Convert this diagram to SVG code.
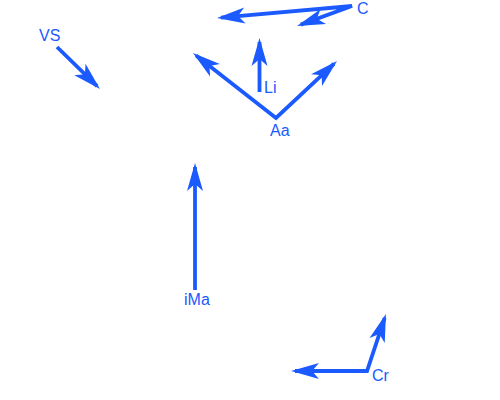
<svg xmlns="http://www.w3.org/2000/svg" width="500" height="400" viewBox="0 0 500 400">
<style>
.c{fill:none;stroke:#1a5aff;stroke-width:3.8;marker-end:url(#ah)}
.d{fill:none;stroke:#1a5aff;stroke-width:3.8;marker-start:url(#ah);marker-end:url(#ah)}
text{font-family:"Liberation Sans",Arial,sans-serif;font-size:16px;fill:#1a5aff}
</style>
<defs>
<marker id="ah" markerUnits="userSpaceOnUse" markerWidth="40" markerHeight="20" viewBox="-30 -10 40 20" refX="0" refY="0" orient="auto-start-reverse" overflow="visible">
<path d="M4,0 L-24,-8 L-17,0 L-24,8 z" fill="#1a5aff"/>
</marker>
</defs>
<rect width="500" height="400" fill="#fff"/>
<g id="connectors">
<path class="d" d="M221,17.6 L352,6 L300.8,24.6"/>
<path class="c" d="M259.5,92 L259.5,42"/>
<path class="d" d="M196.1,55.5 L276,118 L334.1,63.7"/>
<path class="c" d="M57,47 L97.1,86.2"/>
<path class="c" d="M195,290 L195,167"/>
<path class="d" d="M295,371 L367,371 L384.7,317.8"/>
</g>
<g id="C"><text x="357" y="14">C</text></g>
<g id="Li"><text x="264" y="93">Li</text></g>
<g id="Aa"><text x="270" y="136">Aa</text></g>
<g id="VS"><text x="39" y="41">VS</text></g>
<g id="iMa"><text x="184" y="305">iMa</text></g>
<g id="Cr"><text x="372" y="381">Cr</text></g>
</svg>
